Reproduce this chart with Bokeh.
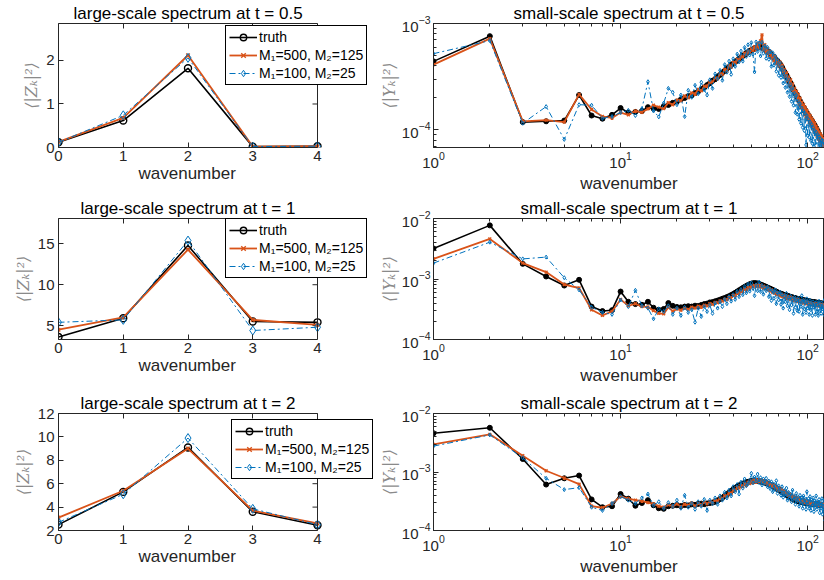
from bokeh.plotting import figure
from bokeh.layouts import column, row
from bokeh.models import (Legend, LegendItem, Range1d, FixedTicker, LinearAxis,
                          LogAxis, Title, Span)
from bokeh.embed import file_html
from bokeh.resources import INLINE

# ---------------- data ----------------
large_k = [0, 1, 2, 3, 4]
large_t05_truth = [0.12, 0.62, 1.82, 0.02, 0.03]
large_t05_m500 = [0.13, 0.68, 2.12, 0.02, 0.03]
large_t05_m100 = [0.12, 0.74, 2.06, 0.02, 0.03]
large_t1_truth = [3.6, 5.9, 14.8, 5.5, 5.4]
large_t1_m500 = [4.5, 6.0, 14.3, 5.7, 5.1]
large_t1_m100 = [5.4, 5.7, 15.4, 4.4, 4.8]
large_t2_truth = [2.5, 5.3, 9.1, 3.6, 2.45]
large_t2_m500 = [3.1, 5.4, 9.0, 3.7, 2.6]
large_t2_m100 = [2.7, 5.1, 9.9, 3.85, 2.5]

small_k = list(range(1, 129))
unit = 1e-4  # small-scale values below are given in units of 1e-4

small_t05_truth = [
    4.4, 7.6, 1.18, 1.2, 1.22, 2.12, 1.36, 1.27, 1.38, 1.6,
    1.45, 1.47, 1.5, 1.63, 1.58, 1.57, 1.66, 1.71, 1.79, 1.84,
    1.93, 1.99, 2.07, 2.11, 2.21, 2.29, 2.41, 2.5, 2.63, 2.74,
    2.89, 2.99, 3.16, 3.28, 3.46, 3.58, 3.77, 3.88, 4.07, 4.18,
    4.37, 4.48, 4.67, 4.78, 4.97, 5.08, 5.27, 5.37, 5.52, 5.58,
    5.72, 5.78, 5.92, 5.97, 6.07, 5.98, 5.97, 5.82, 5.77, 5.57,
    5.52, 5.32, 5.22, 5.02, 4.92, 4.75, 4.67, 4.52, 4.44, 4.27,
    4.17, 3.97, 3.87, 3.65, 3.52, 3.35, 3.27, 3.07, 3.0, 2.82,
    2.76, 2.6, 2.54, 2.37, 2.32, 2.19, 2.16, 2.03, 2.0, 1.87,
    1.86, 1.75, 1.74, 1.63, 1.62, 1.52, 1.53, 1.43, 1.44, 1.35,
    1.36, 1.28, 1.29, 1.21, 1.22, 1.14, 1.16, 1.08, 1.1, 1.02,
    1.04, 0.96, 0.98, 0.91, 0.91, 0.86, 0.86, 0.81, 0.83, 0.78,
    0.8, 0.76, 0.77, 0.73, 0.75, 0.71, 0.72, 0.69]
small_t05_m500 = [
    4.1, 7.2, 1.2, 1.23, 1.18, 2.15, 1.55, 1.33, 1.29, 1.45,
    1.38, 1.5, 1.46, 1.57, 1.7, 1.63, 1.58, 1.8, 1.72, 1.9,
    1.88, 2.08, 2.0, 2.22, 2.17, 2.4, 2.33, 2.55, 2.58, 2.8,
    2.82, 3.08, 3.02, 3.38, 3.32, 3.7, 3.58, 4.02, 3.88, 4.3,
    4.25, 4.6, 4.5, 4.95, 4.8, 5.25, 5.1, 5.5, 5.35, 5.8,
    5.55, 6.05, 5.75, 6.45, 5.85, 6.85, 7.8, 5.65, 6.3, 5.35,
    5.75, 5.05, 5.45, 4.75, 5.15, 4.45, 4.9, 4.25, 4.55, 4.0,
    4.35, 3.72, 4.05, 3.42, 3.7, 3.15, 3.45, 2.88, 3.15, 2.62,
    2.95, 2.42, 2.7, 2.25, 2.45, 2.05, 2.3, 1.9, 2.15, 1.75,
    1.98, 1.62, 1.82, 1.52, 1.72, 1.4, 1.62, 1.32, 1.52, 1.25,
    1.42, 1.17, 1.36, 1.1, 1.28, 1.03, 1.22, 0.97, 1.15, 0.92,
    1.08, 0.87, 1.02, 0.82, 0.96, 0.78, 0.91, 0.74, 0.87, 0.71,
    0.83, 0.69, 0.79, 0.67, 0.76, 0.65, 0.74, 0.64]
small_t05_m100 = [
    5.2, 6.9, 1.15, 1.65, 0.81, 1.72, 1.7, 1.28, 1.33, 1.45,
    1.52, 1.36, 1.58, 2.83, 1.5, 1.32, 1.78, 2.45, 2.25, 1.72,
    2.12, 1.33, 2.35, 2.02, 2.62, 2.18, 2.8, 2.38, 2.12, 2.95,
    2.45, 3.35, 3.02, 3.62, 2.92, 4.1, 3.48, 4.42, 3.32, 4.65,
    3.95, 5.15, 4.35, 5.5, 4.42, 5.95, 4.9, 6.3, 5.05, 6.6,
    5.15, 3.5, 6.7, 5.45, 6.55, 4.95, 6.65, 5.25, 6.15, 4.7,
    5.95, 4.6, 5.5, 3.95, 5.3, 4.05, 4.95, 3.55, 4.6, 3.25,
    4.25, 3.1, 3.85, 2.75, 3.55, 2.5, 3.2, 2.25, 2.95, 2.05,
    2.65, 1.85, 2.45, 1.7, 2.2, 1.45, 2.1, 1.4, 1.85, 1.25,
    1.75, 1.15, 1.6, 1.05, 1.5, 0.98, 1.42, 0.72, 1.35, 0.88,
    1.25, 0.85, 1.18, 0.79, 1.12, 0.74, 1.05, 0.7, 0.98, 0.66,
    0.95, 0.64, 0.9, 0.62, 0.86, 0.6, 0.82, 0.63, 0.8, 0.58,
    0.78, 0.6, 0.75, 0.57, 0.73, 0.6, 0.7, 0.58]

small_t1_truth = [
    32, 77, 17.8, 11, 7.8, 9.7, 3.5, 2.95, 3.05, 6.2,
    4.2, 3.85, 3.75, 4.2, 3.35, 3.1, 3.2, 4.0, 3.6, 3.45,
    3.4, 3.5, 3.55, 3.5, 3.62, 3.58, 3.72, 3.85, 3.92, 4.1,
    4.15, 4.28, 4.4, 4.55, 4.72, 4.85, 5.02, 5.2, 5.42, 5.65,
    5.92, 6.2, 6.5, 6.78, 7.1, 7.4, 7.68, 7.95, 8.2, 8.38,
    8.5, 8.55, 8.5, 8.42, 8.25, 8.1, 7.92, 7.75, 7.58, 7.4,
    7.22, 7.05, 6.9, 6.75, 6.6, 6.45, 6.3, 6.15, 6.02, 5.9,
    5.8, 5.7, 5.6, 5.52, 5.45, 5.4, 5.33, 5.27, 5.2, 5.12,
    5.05, 5.0, 4.95, 4.9, 4.85, 4.8, 4.75, 4.7, 4.66, 4.62,
    4.58, 4.55, 4.5, 4.48, 4.45, 4.42, 4.4, 4.37, 4.34, 4.3,
    4.28, 4.26, 4.23, 4.21, 4.19, 4.17, 4.15, 4.13, 4.11, 4.09,
    4.07, 4.05, 4.03, 4.01, 3.99, 3.97, 3.96, 3.94, 3.93, 3.91,
    3.9, 3.89, 3.88, 3.87, 3.86, 3.85, 3.84, 3.83]
small_t1_m500 = [
    21.5, 46, 18.3, 13, 8.1, 7.1, 3.1, 2.5, 2.9, 4.6,
    3.6, 3.9, 3.5, 3.45, 3.0, 2.7, 2.65, 3.4, 2.95, 3.2,
    3.05, 3.3, 3.15, 3.42, 3.3, 3.55, 3.45, 3.7, 3.6, 3.9,
    3.82, 4.1, 4.05, 4.35, 4.3, 4.6, 4.55, 4.95, 4.85, 5.35,
    5.3, 5.85, 5.75, 6.3, 6.2, 6.85, 6.65, 7.3, 7.05, 7.6,
    7.4, 7.85, 7.5, 8.0, 7.45, 7.9, 7.3, 7.6, 6.95, 7.25,
    6.7, 6.95, 6.35, 6.6, 6.05, 6.3, 5.8, 6.0, 5.55, 5.8,
    5.35, 5.6, 5.15, 5.45, 5.0, 5.3, 4.85, 5.15, 4.7, 5.0,
    4.6, 4.9, 4.5, 4.75, 4.4, 4.65, 4.3, 4.55, 4.25, 4.45,
    4.15, 4.4, 4.1, 4.3, 4.0, 4.25, 3.95, 4.2, 3.9, 4.1,
    3.85, 4.05, 3.8, 4.0, 3.75, 3.95, 3.72, 3.9, 3.68, 3.88,
    3.65, 3.85, 3.62, 3.82, 3.6, 3.8, 3.58, 3.78, 3.56, 3.75,
    3.55, 3.74, 3.53, 3.72, 3.52, 3.7, 3.5, 3.68]
small_t1_m100 = [
    18.3, 40.6, 21.5, 23, 10.5, 6.6, 3.4, 2.8, 2.6, 4.5,
    3.5, 6.5, 3.6, 3.3, 2.2, 3.2, 2.9, 3.6, 2.6, 3.3,
    2.5, 3.4, 2.8, 3.1, 1.93, 3.3, 2.4, 3.5, 2.9, 3.7,
    2.7, 4.0, 3.3, 4.2, 3.5, 4.6, 3.9, 5.1, 4.3, 5.5,
    4.6, 6.2, 5.1, 6.7, 5.5, 7.5, 5.9, 8.2, 6.3, 8.6,
    7.0, 5.3, 8.0, 6.4, 8.9, 6.2, 7.8, 5.6, 7.2, 6.4,
    7.4, 5.1, 6.8, 4.4, 6.3, 4.8, 6.6, 3.9, 5.9, 4.5,
    6.1, 3.8, 5.5, 3.3, 5.2, 4.2, 5.8, 3.6, 4.9, 3.1,
    5.2, 3.7, 4.6, 2.7, 5.0, 3.4, 4.4, 3.0, 4.8, 2.9,
    4.3, 3.5, 5.3, 2.6, 4.5, 3.2, 4.1, 2.8, 4.7, 3.3,
    3.9, 2.6, 4.4, 3.1, 3.8, 2.5, 4.2, 3.4, 3.6, 2.6,
    4.1, 2.9, 3.7, 2.5, 4.3, 3.0, 3.5, 2.7, 4.0, 3.2,
    3.4, 2.6, 4.5, 2.9, 3.6, 2.8, 3.9, 3.1]

small_t2_truth = [
    46, 57, 16.7, 6.1, 7.8, 8.7, 3.4, 2.5, 2.6, 4.2,
    3.5, 2.65, 2.95, 3.3, 2.7, 2.4, 2.35, 2.6, 2.65, 2.7,
    2.62, 2.72, 2.68, 2.8, 2.75, 2.85, 2.88, 2.82, 2.9, 2.95,
    3.0, 3.1, 3.25, 3.45, 3.65, 3.9, 4.15, 4.45, 4.75, 5.05,
    5.35, 5.65, 5.9, 6.1, 6.3, 6.5, 6.65, 6.8, 6.9, 7.0,
    7.05, 7.08, 7.05, 7.0, 6.95, 6.88, 6.8, 6.7, 6.6, 6.48,
    6.35, 6.2, 6.05, 5.9, 5.75, 5.6, 5.45, 5.3, 5.15, 5.0,
    4.85, 4.7, 4.55, 4.42, 4.3, 4.18, 4.06, 3.95, 3.85, 3.75,
    3.66, 3.58, 3.5, 3.43, 3.37, 3.32, 3.27, 3.22, 3.18, 3.14,
    3.12, 3.09, 3.06, 3.04, 3.02, 3.0, 2.98, 2.96, 2.94, 2.93,
    2.92, 2.9, 2.89, 2.88, 2.86, 2.85, 2.84, 2.83, 2.82, 2.81,
    2.8, 2.79, 2.78, 2.77, 2.76, 2.75, 2.74, 2.73, 2.72, 2.71,
    2.7, 2.69, 2.68, 2.67, 2.66, 2.65, 2.64, 2.63]
small_t2_m500 = [
    29.7, 44, 19, 10.5, 7.9, 6.2, 2.6, 2.45, 2.9, 3.8,
    3.5, 3.3, 3.2, 3.0, 2.85, 2.6, 2.5, 2.75, 2.6, 2.85,
    2.55, 2.8, 2.7, 2.95, 2.6, 2.9, 2.75, 3.05, 2.85, 3.1,
    3.0, 3.3, 3.2, 3.6, 3.5, 3.95, 3.85, 4.4, 4.3, 4.9,
    4.85, 5.45, 5.3, 5.9, 5.65, 6.3, 6.0, 6.7, 6.35, 7.1,
    6.6, 7.3, 6.75, 7.4, 6.8, 7.3, 6.7, 7.2, 6.5, 6.95,
    6.2, 6.55, 5.85, 6.2, 5.6, 5.95, 5.3, 5.6, 5.05, 5.35,
    4.8, 5.1, 4.55, 4.85, 4.35, 4.6, 4.15, 4.4, 3.95, 4.2,
    3.8, 4.0, 3.65, 3.85, 3.5, 3.7, 3.4, 3.6, 3.3, 3.5,
    3.2, 3.4, 3.1, 3.35, 3.05, 3.25, 3.0, 3.2, 2.95, 3.15,
    2.9, 3.1, 2.85, 3.05, 2.82, 3.0, 2.8, 2.98, 2.78, 2.95,
    2.75, 2.93, 2.72, 2.9, 2.7, 2.88, 2.68, 2.86, 2.66, 2.84,
    2.64, 2.82, 2.62, 2.8, 2.6, 2.78, 2.58, 2.76]
small_t2_m100 = [
    27.7, 43, 17.5, 7.8, 5.0, 5.4, 2.5, 2.2, 2.9, 3.8,
    3.3, 2.9, 3.6, 4.2, 2.7, 3.1, 2.4, 3.0, 2.6, 3.3,
    2.4, 4.0, 2.5, 2.9, 2.3, 3.1, 2.6, 3.4, 2.2, 3.3,
    2.9, 3.6, 2.8, 3.9, 3.3, 4.5, 3.6, 4.9, 3.9, 5.6,
    4.6, 6.1, 4.2, 6.7, 5.3, 7.6, 5.8, 6.3, 7.2, 9.5,
    6.5, 8.2, 7.0, 9.2, 6.6, 8.0, 6.0, 7.6, 6.4, 7.8,
    5.6, 7.0, 5.2, 6.8, 4.6, 6.2, 5.0, 7.1, 4.3, 5.8,
    4.9, 4.0, 5.6, 3.7, 4.8, 3.9, 5.3, 3.3, 4.5, 3.6,
    4.2, 3.1, 4.9, 3.4, 3.8, 2.8, 4.3, 3.2, 3.7, 2.6,
    4.0, 3.0, 3.6, 2.4, 3.9, 2.9, 3.4, 2.3, 4.6, 2.8,
    3.5, 2.4, 3.8, 2.2, 3.3, 2.7, 3.6, 2.1, 3.2, 2.5,
    3.9, 2.3, 3.1, 2.6, 3.4, 2.0, 3.0, 2.4, 3.5, 1.9,
    2.9, 2.2, 3.3, 1.5, 2.8, 2.1, 3.2, 2.0]

legend_labels = ["truth", "M\u2081=500, M\u2082=125", "M\u2081=100, M\u2082=25"]

# x ticks of the log axes
log_x_major = [1, 10, 100]
log_x_minor = [2, 3, 4, 5, 6, 7, 8, 9, 20, 30, 40, 50, 60, 70, 80, 90]
log_y_major_t05 = [1e-4, 1e-3]
log_y_major = [1e-4, 1e-3, 1e-2]
log_y_minor = [7e-5, 8e-5, 9e-5,
               2e-4, 3e-4, 4e-4, 5e-4, 6e-4, 7e-4, 8e-4, 9e-4,
               2e-3, 3e-3, 4e-3, 5e-3, 6e-3, 7e-3, 8e-3, 9e-3]

# ---------------- style ----------------
BLACK = "#000000"
ORANGE = "#D95319"
BLUE = "#0072BD"
AXC = "#262626"
FONT = "Liberation Sans"
LEFT_W = 376
RIGHT_W = 824 - LEFT_W
LEFT_FRAME = 259      # visible box width of the left panels (px)
LEFT_EXTRA = 56       # extra frame room so the legend can overhang the box


def style_axis(ax, labels=True):
    ax.axis_line_color = AXC
    ax.major_tick_line_color = AXC
    ax.minor_tick_line_color = AXC
    ax.major_tick_in = 5
    ax.major_tick_out = 0
    ax.minor_tick_in = 3
    ax.minor_tick_out = 0
    ax.major_label_text_font = FONT
    ax.major_label_text_color = AXC if labels else None
    ax.major_label_text_font_size = "15px" if labels else "1px"
    ax.major_label_standoff = 4 if labels else 0
    ax.axis_label_text_font = FONT
    ax.axis_label_text_font_size = "17px"
    ax.axis_label_text_font_style = "normal"
    ax.axis_label_text_color = AXC
    ax.axis_label_standoff = 2


def base_fig(width, height, title, borders, **kw):
    top, bottom, left, right = borders
    p = figure(width=width, height=height, output_backend="svg",
               toolbar_location=None, min_border_top=top,
               min_border_bottom=bottom, min_border_left=left,
               min_border_right=right, **kw)
    p.title.text = title
    p.title.text_font = FONT
    p.title.text_font_size = "17px"
    p.title.text_font_style = "normal"
    p.title.text_color = "#000000"
    p.title.align = "center"
    p.title.standoff = 1
    p.grid.visible = False
    p.outline_line_color = AXC
    p.outline_line_alpha = 1.0
    p.background_fill_color = "white"
    p.border_fill_color = "white"
    return p


def add_legend(p, items, loc):
    leg = Legend(items=items, location=loc)
    leg.border_line_color = "#000000"
    leg.border_line_alpha = 1.0
    leg.border_line_width = 1
    leg.background_fill_color = "white"
    leg.background_fill_alpha = 1.0
    leg.label_text_font = FONT
    leg.label_text_font_size = "14px"
    leg.label_text_color = "#000000"
    leg.glyph_width = 28
    leg.glyph_height = 16
    leg.label_height = 16
    leg.label_standoff = 2
    leg.padding = 3
    leg.spacing = 2
    leg.margin = 0
    p.add_layout(leg)


def ylabel_style(ax, text):
    ax.axis_label = text
    ax.axis_label_text_color = "#8a8a8a"
    ax.axis_label_text_font = "DejaVu Serif"
    ax.axis_label_text_font_style = "italic"
    ax.axis_label_text_font_size = "16px"


def large_plot(title, title_off, truth, m500, m100, yr, yticks, height,
               borders, loc):
    x_end = large_k[-1] * (LEFT_FRAME + LEFT_EXTRA) / LEFT_FRAME
    p = base_fig(LEFT_W, height, title, borders,
                 x_range=Range1d(large_k[0], x_end), y_range=Range1d(*yr))
    p.outline_line_color = None
    p.title.align = "left"
    p.title.offset = title_off
    xa = p.xaxis[0]
    style_axis(xa)
    xa.major_label_standoff = 3
    xa.ticker = FixedTicker(ticks=large_k)
    xa.bounds = (large_k[0], large_k[-1])
    ya = p.yaxis[0]
    style_axis(ya)
    ya.ticker = FixedTicker(ticks=yticks)
    ylabel_style(ya, "\u27e8|Z\u2096|\u00b2\u27e9")
    # top edge of the box with ticks
    ax_t = LinearAxis(ticker=FixedTicker(ticks=large_k),
                      bounds=(large_k[0], large_k[-1]))
    style_axis(ax_t, labels=False)
    p.add_layout(ax_t, "above")
    # right edge of the box with ticks
    p.add_layout(Span(location=large_k[-1], dimension="height",
                      line_color=AXC, line_width=1))
    tick_dx = 5 * large_k[-1] / LEFT_FRAME
    p.segment(x0=[large_k[-1]] * len(yticks), y0=yticks,
              x1=[large_k[-1] - tick_dx] * len(yticks), y1=yticks,
              line_color=AXC, line_width=1)
    # x label centred under the visible box
    xl = Title(text="wavenumber", align="left", offset=80,
               text_font=FONT, text_font_size="17px", text_font_style="normal",
               text_color=AXC)
    try:
        xl.standoff = -3
    except Exception:
        xl.standoff = 0
    p.add_layout(xl, "below")

    l1 = p.line(large_k, truth, color=BLACK, line_width=1.6)
    s1 = p.scatter(large_k, truth, marker="circle", size=7, line_color=BLACK,
                   fill_color=None, line_width=1.4)
    l2 = p.line(large_k, m500, color=ORANGE, line_width=1.8)
    s2 = p.scatter(large_k, m500, marker="x", size=5, line_color=ORANGE,
                   line_width=1.4)
    l3 = p.line(large_k, m100, color=BLUE, line_width=1.0, line_dash="6 3 2 3")
    s3 = p.scatter(large_k, m100, marker="diamond", size=9, line_color=BLUE,
                   fill_color=None, line_width=1.0)
    items = [LegendItem(label=legend_labels[0], renderers=[l1, s1]),
             LegendItem(label=legend_labels[1], renderers=[l2, s2]),
             LegendItem(label=legend_labels[2], renderers=[l3, s3])]
    add_legend(p, items, loc)
    return p


def small_plot(title, truth, m500, m100, yr, ymajor, height, borders):
    p = base_fig(RIGHT_W, height, title, borders,
                 x_axis_type="log", y_axis_type="log",
                 x_range=Range1d(1, 123), y_range=Range1d(*yr))
    xa = p.xaxis[0]
    style_axis(xa)
    xa.ticker = FixedTicker(ticks=log_x_major, minor_ticks=log_x_minor)
    xa.axis_label = "wavenumber"
    xa.axis_label_standoff = 3
    ya = p.yaxis[0]
    style_axis(ya)
    ya.ticker = FixedTicker(ticks=ymajor, minor_ticks=log_y_minor)
    ylabel_style(ya, "\u27e8|Y\u2096|\u00b2\u27e9")
    ya.axis_label_standoff = 0
    ya.major_label_standoff = 3
    ax_t = LogAxis(ticker=FixedTicker(ticks=log_x_major, minor_ticks=log_x_minor))
    style_axis(ax_t, labels=False)
    p.add_layout(ax_t, "above")

    yt = [v * unit for v in truth]
    y5 = [v * unit for v in m500]
    y1 = [v * unit for v in m100]
    p.line(small_k, yt, color=BLACK, line_width=1.6)
    p.scatter(small_k, yt, marker="circle", size=5, line_color=BLACK,
              fill_color=BLACK, line_width=1.0)
    p.line(small_k, y5, color=ORANGE, line_width=1.8)
    p.scatter(small_k, y5, marker="x", size=4, line_color=ORANGE, line_width=1.5)
    p.line(small_k, y1, color=BLUE, line_width=1.0, line_dash="6 3 2 3")
    p.scatter(small_k, y1, marker="diamond", size=4, line_color=BLUE,
              fill_color=None, line_width=1.0)
    return p


RB = LEFT_W - 58 - LEFT_FRAME - LEFT_EXTRA
SL = 56   # left border of the small-scale panels
f1 = large_plot("large-scale spectrum at t = 0.5", 15, large_t05_truth,
                large_t05_m500, large_t05_m100, (0, 2.85), [0, 1, 2], 195,
                (23, 43, 58, RB), (167, 62))
f2 = small_plot("small-scale spectrum at t = 0.5", small_t05_truth,
                small_t05_m500, small_t05_m100, (6.8e-5, 1e-3),
                log_y_major_t05, 195, (23, 45, SL, 0))
f3 = large_plot("large-scale spectrum at t = 1", 22, large_t1_truth,
                large_t1_m500, large_t1_m100, (3.3, 18.1), [5, 10, 15], 192,
                (20, 48, 58, RB), (167, 61))
f4 = small_plot("small-scale spectrum at t = 1", small_t1_truth,
                small_t1_m500, small_t1_m100, (1e-4, 1e-2), log_y_major, 192,
                (23, 48, SL, 0))
f5 = large_plot("large-scale spectrum at t = 2", 22, large_t2_truth,
                large_t2_m500, large_t2_m100, (2, 12), [2, 4, 6, 8, 10, 12], 193,
                (23, 48, 58, RB), (173, 51))
f6 = small_plot("small-scale spectrum at t = 2", small_t2_truth,
                small_t2_m500, small_t2_m100, (1e-4, 1e-2), log_y_major, 193,
                (26, 50, SL, 0))

layout = column(row(f1, f2), row(f3, f4), row(f5, f6))
open("out.html", "w").write(file_html(layout, INLINE))
